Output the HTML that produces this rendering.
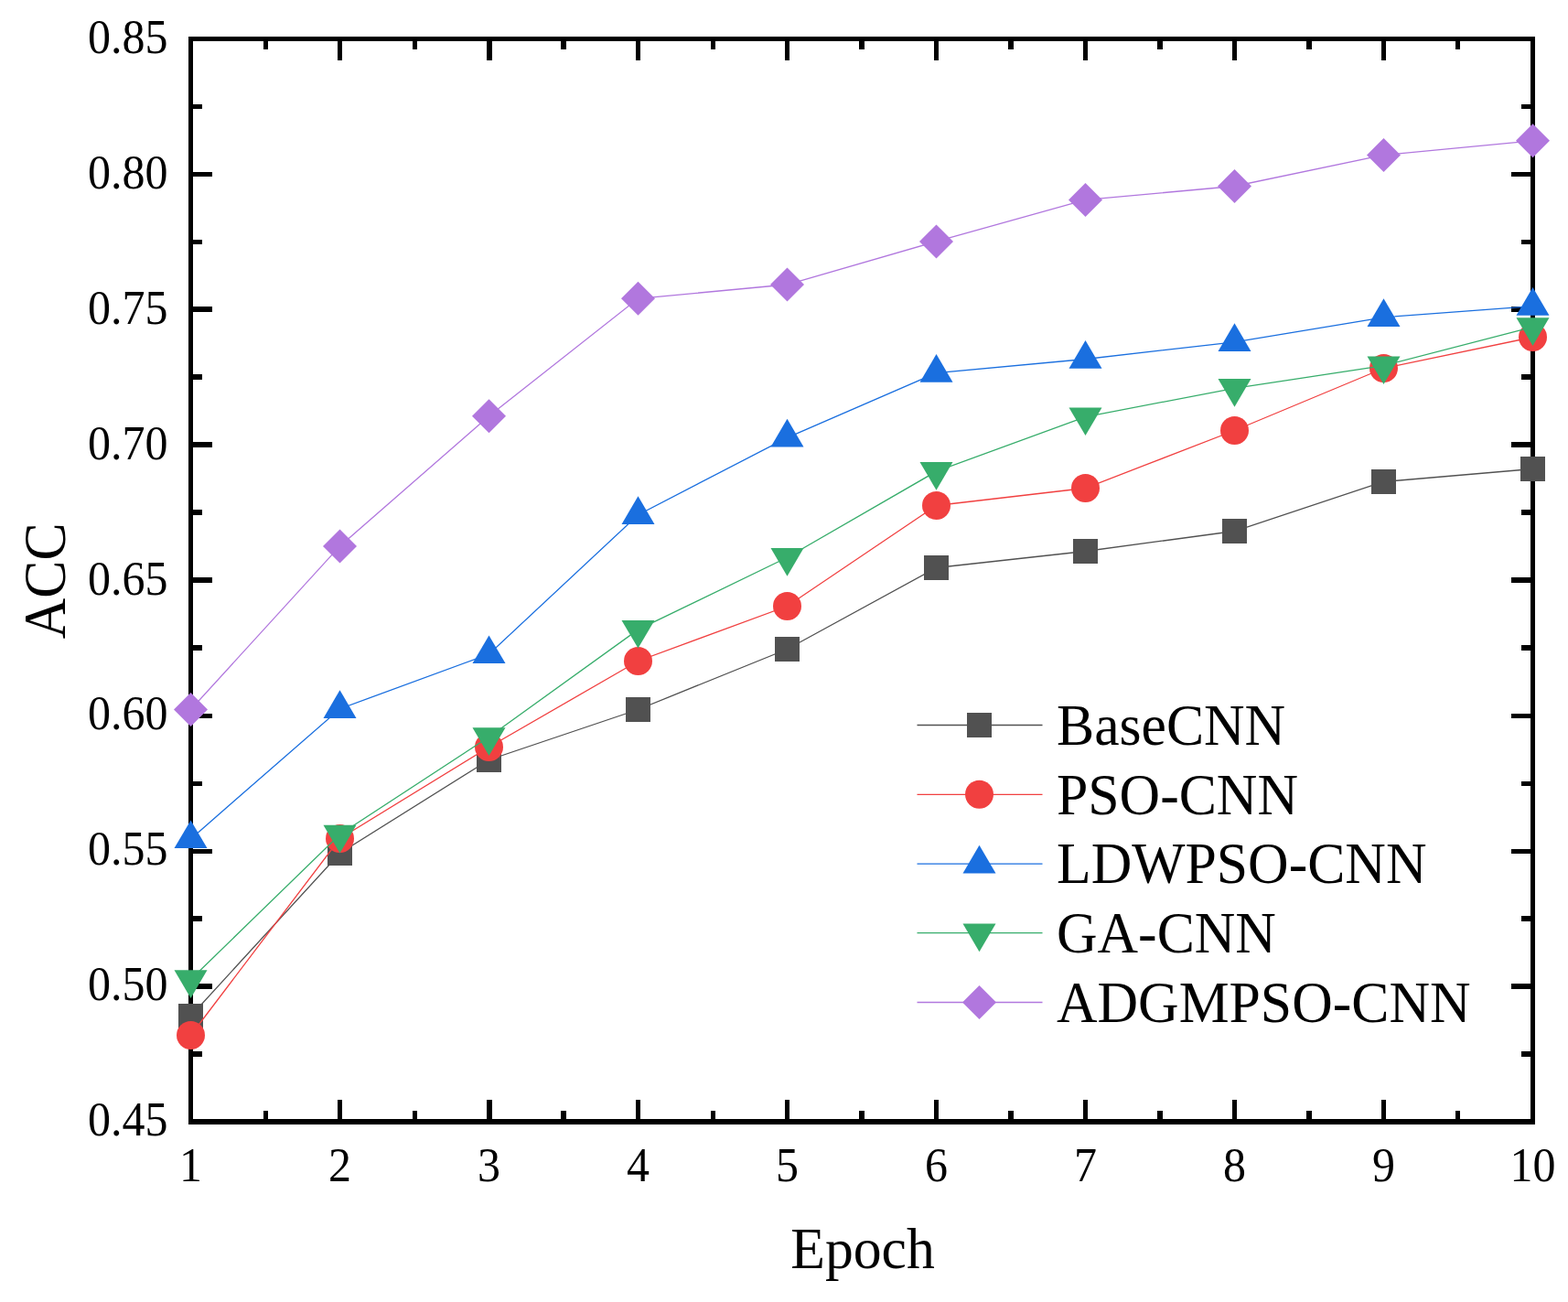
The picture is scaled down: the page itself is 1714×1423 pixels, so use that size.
<!DOCTYPE html>
<html lang="en">
<head>
<meta charset="utf-8">
<title>ACC vs Epoch</title>
<style>
html,body{margin:0;padding:0;background:#fff;}
body{width:1714px;height:1423px;overflow:hidden;}
svg{display:block;}
text{font-family:"Liberation Serif","Times New Roman",serif;fill:#000;}
.tick{font-size:50px;}
.big{font-size:61.7px;}
</style>
</head>
<body>
<svg width="1714" height="1423" viewBox="0 0 1714 1423">
<rect x="0" y="0" width="1714" height="1423" fill="#fff"/>

<g shape-rendering="crispEdges" fill="#000">
<rect x="206" y="40" width="1472" height="5"/>
<rect x="206" y="1223" width="1472" height="6"/>
<rect x="206" y="40" width="5" height="1189"/>
<rect x="1673" y="40" width="5" height="1189"/>
<rect x="288" y="45" width="5" height="9"/>
<rect x="288" y="1214" width="5" height="9"/>
<rect x="369" y="45" width="5" height="21"/>
<rect x="369" y="1202" width="5" height="21"/>
<rect x="451" y="45" width="5" height="9"/>
<rect x="451" y="1214" width="5" height="9"/>
<rect x="532" y="45" width="6" height="21"/>
<rect x="532" y="1202" width="6" height="21"/>
<rect x="613" y="45" width="6" height="9"/>
<rect x="613" y="1214" width="6" height="9"/>
<rect x="695" y="45" width="5" height="21"/>
<rect x="695" y="1202" width="5" height="21"/>
<rect x="777" y="45" width="5" height="9"/>
<rect x="777" y="1214" width="5" height="9"/>
<rect x="858" y="45" width="5" height="21"/>
<rect x="858" y="1202" width="5" height="21"/>
<rect x="939" y="45" width="6" height="9"/>
<rect x="939" y="1214" width="6" height="9"/>
<rect x="1021" y="45" width="5" height="21"/>
<rect x="1021" y="1202" width="5" height="21"/>
<rect x="1102" y="45" width="6" height="9"/>
<rect x="1102" y="1214" width="6" height="9"/>
<rect x="1184" y="45" width="5" height="21"/>
<rect x="1184" y="1202" width="5" height="21"/>
<rect x="1265" y="45" width="6" height="9"/>
<rect x="1265" y="1214" width="6" height="9"/>
<rect x="1347" y="45" width="5" height="21"/>
<rect x="1347" y="1202" width="5" height="21"/>
<rect x="1428" y="45" width="6" height="9"/>
<rect x="1428" y="1214" width="6" height="9"/>
<rect x="1510" y="45" width="5" height="21"/>
<rect x="1510" y="1202" width="5" height="21"/>
<rect x="1591" y="45" width="5" height="9"/>
<rect x="1591" y="1214" width="5" height="9"/>
<rect x="211" y="114" width="10" height="5"/>
<rect x="1663" y="114" width="10" height="5"/>
<rect x="211" y="188" width="21" height="5"/>
<rect x="1652" y="188" width="21" height="5"/>
<rect x="211" y="262" width="10" height="5"/>
<rect x="1663" y="262" width="10" height="5"/>
<rect x="211" y="335" width="21" height="6"/>
<rect x="1652" y="335" width="21" height="6"/>
<rect x="211" y="409" width="10" height="6"/>
<rect x="1663" y="409" width="10" height="6"/>
<rect x="211" y="483" width="21" height="6"/>
<rect x="1652" y="483" width="21" height="6"/>
<rect x="211" y="557" width="10" height="6"/>
<rect x="1663" y="557" width="10" height="6"/>
<rect x="211" y="631" width="21" height="6"/>
<rect x="1652" y="631" width="21" height="6"/>
<rect x="211" y="705" width="10" height="6"/>
<rect x="1663" y="705" width="10" height="6"/>
<rect x="211" y="780" width="21" height="5"/>
<rect x="1652" y="780" width="21" height="5"/>
<rect x="211" y="854" width="10" height="5"/>
<rect x="1663" y="854" width="10" height="5"/>
<rect x="211" y="928" width="21" height="5"/>
<rect x="1652" y="928" width="21" height="5"/>
<rect x="211" y="1001" width="10" height="6"/>
<rect x="1663" y="1001" width="10" height="6"/>
<rect x="211" y="1075" width="21" height="6"/>
<rect x="1652" y="1075" width="21" height="6"/>
<rect x="211" y="1149" width="10" height="6"/>
<rect x="1663" y="1149" width="10" height="6"/>
</g>
<g class="tick">
<text transform="translate(183.5,1241.1) scale(1,1.035)" text-anchor="end">0.45</text>
<text transform="translate(183.5,1093.22) scale(1,1.035)" text-anchor="end">0.50</text>
<text transform="translate(183.5,945.35) scale(1,1.035)" text-anchor="end">0.55</text>
<text transform="translate(183.5,797.47) scale(1,1.035)" text-anchor="end">0.60</text>
<text transform="translate(183.5,649.6) scale(1,1.035)" text-anchor="end">0.65</text>
<text transform="translate(183.5,501.73) scale(1,1.035)" text-anchor="end">0.70</text>
<text transform="translate(183.5,353.85) scale(1,1.035)" text-anchor="end">0.75</text>
<text transform="translate(183.5,205.97) scale(1,1.035)" text-anchor="end">0.80</text>
<text transform="translate(183.5,58.1) scale(1,1.035)" text-anchor="end">0.85</text>
<text transform="translate(208.5,1291) scale(1,1.035)" text-anchor="middle">1</text>
<text transform="translate(371.5,1291) scale(1,1.035)" text-anchor="middle">2</text>
<text transform="translate(534.5,1291) scale(1,1.035)" text-anchor="middle">3</text>
<text transform="translate(697.5,1291) scale(1,1.035)" text-anchor="middle">4</text>
<text transform="translate(860.5,1291) scale(1,1.035)" text-anchor="middle">5</text>
<text transform="translate(1023.5,1291) scale(1,1.035)" text-anchor="middle">6</text>
<text transform="translate(1186.5,1291) scale(1,1.035)" text-anchor="middle">7</text>
<text transform="translate(1349.5,1291) scale(1,1.035)" text-anchor="middle">8</text>
<text transform="translate(1512.5,1291) scale(1,1.035)" text-anchor="middle">9</text>
<text transform="translate(1675.5,1291) scale(1,1.035)" text-anchor="middle">10</text>
</g>
<text class="big" transform="translate(943,1385.5) scale(1,1.02)" text-anchor="middle">Epoch</text>
<text class="big" transform="translate(71,634.8) scale(1.06,1) rotate(-90)" text-anchor="middle">ACC</text>
<g><polyline points="208.5,1110.5 371.5,932.5 534.5,830.5 697.5,775.5 860.5,709.5 1023.5,620.5 1186.5,602.5 1349.5,580.5 1512.5,526.5 1675.5,512.5" fill="none" stroke="#515151" stroke-width="1.3"/>
<rect x="195" y="1097" width="27" height="27" fill="#515151"/>
<rect x="358" y="919" width="27" height="27" fill="#515151"/>
<rect x="521" y="817" width="27" height="27" fill="#515151"/>
<rect x="684" y="762" width="27" height="27" fill="#515151"/>
<rect x="847" y="696" width="27" height="27" fill="#515151"/>
<rect x="1010" y="607" width="27" height="27" fill="#515151"/>
<rect x="1173" y="589" width="27" height="27" fill="#515151"/>
<rect x="1336" y="567" width="27" height="27" fill="#515151"/>
<rect x="1499" y="513" width="27" height="27" fill="#515151"/>
<rect x="1662" y="499" width="27" height="27" fill="#515151"/>
</g>
<g><polyline points="208.5,1131.5 371.5,916.5 534.5,816.5 697.5,722.5 860.5,662.5 1023.5,552.5 1186.5,533.5 1349.5,470.5 1512.5,402.5 1675.5,368.5" fill="none" stroke="#F14040" stroke-width="1.3"/>
<circle cx="208.5" cy="1131.5" r="15.5" fill="#F14040"/>
<circle cx="371.5" cy="916.5" r="15.5" fill="#F14040"/>
<circle cx="534.5" cy="816.5" r="15.5" fill="#F14040"/>
<circle cx="697.5" cy="722.5" r="15.5" fill="#F14040"/>
<circle cx="860.5" cy="662.5" r="15.5" fill="#F14040"/>
<circle cx="1023.5" cy="552.5" r="15.5" fill="#F14040"/>
<circle cx="1186.5" cy="533.5" r="15.5" fill="#F14040"/>
<circle cx="1349.5" cy="470.5" r="15.5" fill="#F14040"/>
<circle cx="1512.5" cy="402.5" r="15.5" fill="#F14040"/>
<circle cx="1675.5" cy="368.5" r="15.5" fill="#F14040"/>
</g>
<g><polyline points="208.5,916.9 371.5,774.7 534.5,714.9 697.5,562.7 860.5,478.3 1023.5,407.6 1186.5,392.5 1349.5,373.8 1512.5,346.8 1675.5,334.6" fill="none" stroke="#1A6FDF" stroke-width="1.3"/>
<polygon points="208.5,896.4 226.5,927.1 190.5,927.1" fill="#1A6FDF"/>
<polygon points="371.5,754.2 389.5,784.9 353.5,784.9" fill="#1A6FDF"/>
<polygon points="534.5,694.4 552.5,725.1 516.5,725.1" fill="#1A6FDF"/>
<polygon points="697.5,542.2 715.5,572.9 679.5,572.9" fill="#1A6FDF"/>
<polygon points="860.5,457.8 878.5,488.5 842.5,488.5" fill="#1A6FDF"/>
<polygon points="1023.5,387.1 1041.5,417.8 1005.5,417.8" fill="#1A6FDF"/>
<polygon points="1186.5,372 1204.5,402.7 1168.5,402.7" fill="#1A6FDF"/>
<polygon points="1349.5,353.3 1367.5,384 1331.5,384" fill="#1A6FDF"/>
<polygon points="1512.5,326.3 1530.5,357 1494.5,357" fill="#1A6FDF"/>
<polygon points="1675.5,314.1 1693.5,344.8 1657.5,344.8" fill="#1A6FDF"/>
</g>
<g><polyline points="208.5,1070.5 371.5,912 534.5,805.5 697.5,688.1 860.5,609.3 1023.5,515.2 1186.5,455.6 1349.5,424.3 1512.5,399.6 1675.5,357.4" fill="none" stroke="#37AD6B" stroke-width="1.3"/>
<polygon points="208.5,1091 226.5,1060.3 190.5,1060.3" fill="#37AD6B"/>
<polygon points="371.5,932.5 389.5,901.8 353.5,901.8" fill="#37AD6B"/>
<polygon points="534.5,826 552.5,795.3 516.5,795.3" fill="#37AD6B"/>
<polygon points="697.5,708.6 715.5,677.9 679.5,677.9" fill="#37AD6B"/>
<polygon points="860.5,629.8 878.5,599.1 842.5,599.1" fill="#37AD6B"/>
<polygon points="1023.5,535.7 1041.5,505 1005.5,505" fill="#37AD6B"/>
<polygon points="1186.5,476.1 1204.5,445.4 1168.5,445.4" fill="#37AD6B"/>
<polygon points="1349.5,444.8 1367.5,414.1 1331.5,414.1" fill="#37AD6B"/>
<polygon points="1512.5,420.1 1530.5,389.4 1494.5,389.4" fill="#37AD6B"/>
<polygon points="1675.5,377.9 1693.5,347.2 1657.5,347.2" fill="#37AD6B"/>
</g>
<g><polyline points="208.5,775.5 371.5,596.9 534.5,454.8 697.5,326.3 860.5,311 1023.5,263.9 1186.5,218.4 1349.5,203.5 1512.5,169.4 1675.5,153.8" fill="none" stroke="#B177DE" stroke-width="1.3"/>
<polygon points="208.5,757 227,775.5 208.5,794 190,775.5" fill="#B177DE"/>
<polygon points="371.5,578.4 390,596.9 371.5,615.4 353,596.9" fill="#B177DE"/>
<polygon points="534.5,436.3 553,454.8 534.5,473.3 516,454.8" fill="#B177DE"/>
<polygon points="697.5,307.8 716,326.3 697.5,344.8 679,326.3" fill="#B177DE"/>
<polygon points="860.5,292.5 879,311 860.5,329.5 842,311" fill="#B177DE"/>
<polygon points="1023.5,245.4 1042,263.9 1023.5,282.4 1005,263.9" fill="#B177DE"/>
<polygon points="1186.5,199.9 1205,218.4 1186.5,236.9 1168,218.4" fill="#B177DE"/>
<polygon points="1349.5,185 1368,203.5 1349.5,222 1331,203.5" fill="#B177DE"/>
<polygon points="1512.5,150.9 1531,169.4 1512.5,187.9 1494,169.4" fill="#B177DE"/>
<polygon points="1675.5,135.3 1694,153.8 1675.5,172.3 1657,153.8" fill="#B177DE"/>
</g>
<line x1="1002.5" y1="792.5" x2="1139.5" y2="792.5" stroke="#515151" stroke-width="1.3"/>
<rect x="1057" y="779" width="27" height="27" fill="#515151"/>
<text class="big" transform="translate(1155,814.3) scale(1,1.02)">BaseCNN</text>
<line x1="1002.5" y1="868.3" x2="1139.5" y2="868.3" stroke="#F14040" stroke-width="1.3"/>
<circle cx="1070.5" cy="868.3" r="15.5" fill="#F14040"/>
<text class="big" transform="translate(1155,889.8) scale(1,1.02)">PSO-CNN</text>
<line x1="1002.5" y1="944.2" x2="1139.5" y2="944.2" stroke="#1A6FDF" stroke-width="1.3"/>
<polygon points="1070.5,923.7 1088.5,954.4 1052.5,954.4" fill="#1A6FDF"/>
<text class="big" transform="translate(1155,965.3) scale(1,1.02)">LDWPSO-CNN</text>
<line x1="1002.5" y1="1019.7" x2="1139.5" y2="1019.7" stroke="#37AD6B" stroke-width="1.3"/>
<polygon points="1070.5,1040.2 1088.5,1009.5 1052.5,1009.5" fill="#37AD6B"/>
<text class="big" transform="translate(1155,1041.1) scale(1,1.02)">GA-CNN</text>
<line x1="1002.5" y1="1095.5" x2="1139.5" y2="1095.5" stroke="#B177DE" stroke-width="1.3"/>
<polygon points="1070.5,1077 1089,1095.5 1070.5,1114 1052,1095.5" fill="#B177DE"/>
<text class="big" transform="translate(1155,1116.6) scale(1,1.02)">ADGMPSO-CNN</text>
</svg>
</body>
</html>
